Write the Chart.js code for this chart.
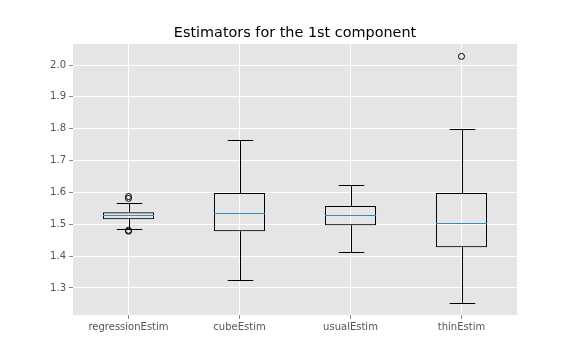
<!DOCTYPE html>
<html>
<head>
<meta charset="utf-8">
<script src="https://cdn.jsdelivr.net/npm/chart.js@4"></script>
<style>
  html, body { margin: 0; padding: 0; background: #ffffff; }
  #wrap { width: 576px; height: 360px; }
</style>
</head>
<body>
<div id="wrap"><canvas id="chartBox"></canvas></div>
<script>
const categories = ["regressionEstim", "cubeEstim", "usualEstim", "thinEstim"];
const q1 = [1.516, 1.478, 1.497, 1.428];
const median = [1.529, 1.535, 1.528, 1.503];
const q3 = [1.538, 1.598, 1.557, 1.598];
const whiskerLow = [1.484, 1.324, 1.412, 1.252];
const whiskerHigh = [1.566, 1.764, 1.622, 1.798];
const outliers = [[1.587, 1.581, 1.481, 1.478], [], [], [2.027]];
const yTicks = [1.3, 1.4, 1.5, 1.6, 1.7, 1.8, 1.9, 2.0];
const chartTitle = "Estimators for the 1st component";

// titik outlier untuk dataset scatter
let outlierPoints = [];
outliers.forEach(function (list, i) {
    list.forEach(function (v) {
        outlierPoints.push({ x: categories[i], y: v });
    });
});

// latar abu-abu gaya ggplot + judul di tengah area plot
const bgPlugin = {
    id: "bgPlugin",
    beforeDraw: function (chart) {
        const a = chart.chartArea;
        const ctx = chart.ctx;
        ctx.save();
        ctx.fillStyle = "#E5E5E5";
        ctx.fillRect(a.left, a.top, a.right - a.left, a.bottom - a.top);
        ctx.fillStyle = "#000000";
        ctx.font = "14.4px 'DejaVu Sans'";
        ctx.textAlign = "center";
        ctx.textBaseline = "alphabetic";
        ctx.fillText(chartTitle, (a.left + a.right) / 2, a.top - 7);
        ctx.restore();
    }
};

// kumis, tutup dan median
const boxPlugin = {
    id: "boxPlugin",
    afterDatasetsDraw: function (chart) {
        const ctx = chart.ctx;
        const y = chart.scales.y;
        const bars = chart.getDatasetMeta(0).data;
        ctx.save();
        ctx.lineWidth = 1;
        bars.forEach(function (bar, i) {
            const x = Math.round(bar.x) + 0.5;
            const half = bar.width / 2;
            const capHalf = half / 2;
            ctx.strokeStyle = "#000000";
            ctx.beginPath();
            ctx.moveTo(x, y.getPixelForValue(q3[i]));
            ctx.lineTo(x, y.getPixelForValue(whiskerHigh[i]));
            ctx.moveTo(x, y.getPixelForValue(q1[i]));
            ctx.lineTo(x, y.getPixelForValue(whiskerLow[i]));
            const yh = Math.round(y.getPixelForValue(whiskerHigh[i])) + 0.5;
            const yl = Math.round(y.getPixelForValue(whiskerLow[i])) + 0.5;
            ctx.moveTo(x - capHalf, yh);
            ctx.lineTo(x + capHalf, yh);
            ctx.moveTo(x - capHalf, yl);
            ctx.lineTo(x + capHalf, yl);
            ctx.stroke();
            const ym = Math.round(y.getPixelForValue(median[i])) + 0.5;
            ctx.strokeStyle = "#348ABD";
            ctx.beginPath();
            ctx.moveTo(bar.x - half, ym);
            ctx.lineTo(bar.x + half, ym);
            ctx.stroke();
        });
        ctx.restore();
    }
};

new Chart(document.getElementById("chartBox"), {
    type: "bar",
    data: {
        labels: categories,
        datasets: [
            {
                label: "box",
                data: categories.map(function (c, i) { return [q1[i], q3[i]]; }),
                backgroundColor: "rgba(0,0,0,0)",
                borderColor: "#000000",
                borderWidth: 1,
                borderSkipped: false,
                barPercentage: 0.46,
                categoryPercentage: 1.0
            },
            {
                type: "line",
                label: "outlier",
                data: outlierPoints,
                showLine: false,
                pointStyle: "circle",
                pointRadius: 3,
                pointBorderWidth: 1,
                pointBorderColor: "#000000",
                pointBackgroundColor: "rgba(0,0,0,0)"
            }
        ]
    },
    options: {
        responsive: true,
        maintainAspectRatio: false,
        animation: false,
        layout: { padding: { left: 0, right: 59, top: 44, bottom: 0 } },
        plugins: {
            legend: { display: false },
            tooltip: { enabled: false },
            title: { display: false }
        },
        scales: {
            x: {
                offset: true,
                grid: {
                    offset: false,
                    color: "#FFFFFF",
                    lineWidth: 1,
                    tickColor: "#888888",
                    tickLength: 4
                },
                border: { display: false },
                ticks: {
                    color: "#555555",
                    padding: 2,
                    font: { family: "DejaVu Sans", size: 10 }
                },
                afterFit: function (s) { s.height = 45; }
            },
            y: {
                min: 1.215,
                max: 2.066,
                grid: {
                    color: "#FFFFFF",
                    lineWidth: 1,
                    tickColor: "#888888",
                    tickLength: 4
                },
                border: { display: false },
                afterBuildTicks: function (s) {
                    s.ticks = yTicks.map(function (v) { return { value: v }; });
                },
                ticks: {
                    color: "#555555",
                    padding: 3,
                    font: { family: "DejaVu Sans", size: 10 },
                    callback: function (v) { return Number(v).toFixed(1); }
                },
                afterFit: function (s) { s.width = 73; }
            }
        }
    },
    plugins: [bgPlugin, boxPlugin]
});
</script>
</body>
</html>
